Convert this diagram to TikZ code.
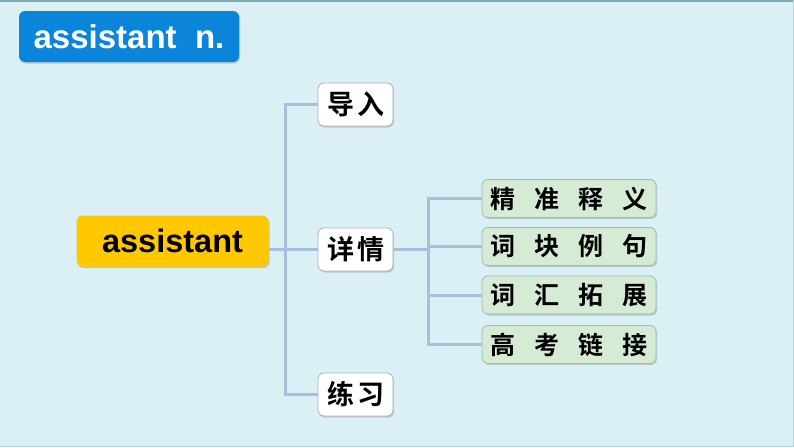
\documentclass[tikz,border=0pt]{standalone}
\usepackage{fontspec}
\setmainfont{Liberation Sans}
\newfontfamily\cjk{Noto Sans CJK SC}[BoldFont={Noto Sans CJK SC Bold}]
\usetikzlibrary{shadows}
\definecolor{bgc}{HTML}{DAF0F4}
\definecolor{titleblue}{HTML}{0A85D9}
\definecolor{rootyel}{HTML}{FFC800}
\definecolor{leafgreen}{HTML}{D5EBD3}
\definecolor{linec}{HTML}{A7BEDC}
\definecolor{boxline}{HTML}{A9B3BD}
\definecolor{topline}{HTML}{7FA8B0}
\definecolor{sideline}{HTML}{B4D4DC}
\tikzset{
  conn/.style={draw=linec, line width=3pt},
  shad/.style={drop shadow={shadow xshift=1pt, shadow yshift=-1.5pt, opacity=0.35, fill=gray}},
  midbox/.style={draw=boxline, line width=0.8pt, fill=white, rounded corners=6pt, minimum width=75pt, minimum height=43pt, inner sep=0pt, font=\cjk\bfseries\fontsize{27}{30}\selectfont, shad},
  leafbox/.style={draw=boxline, line width=0.8pt, fill=leafgreen, rounded corners=6pt, minimum width=174pt, minimum height=38pt, inner sep=0pt, font=\cjk\bfseries\fontsize{25}{28}\selectfont, shad},
}
\newcommand{\gp}{\kern19pt}
\begin{document}
\begin{tikzpicture}[x=1pt,y=-1pt]
\fill[bgc] (0,0) rectangle (794,447);
\useasboundingbox (0,0) rectangle (794,447);
\draw[topline, line width=1.5pt] (0,0.75) -- (794,0.75);
\draw[sideline, line width=1pt] (793.5,0) -- (793.5,447);
\draw[sideline, line width=1pt] (0,446.5) -- (794,446.5);
% coordinates for connector trunks
\coordinate (vx) at (285,0);
\coordinate (wx) at (428,0);
% title
\node[fill=titleblue, rounded corners=6pt, minimum width=220pt, minimum height=51pt, inner sep=0pt, text=white, font=\bfseries\fontsize{33}{36}\selectfont, shad] (title) at (129,36.5) {assistant\ \ n.};
% root
\node[fill=rootyel, rounded corners=6pt, minimum width=192pt, minimum height=51pt, inner sep=0pt, font=\bfseries\fontsize{32.5}{36}\selectfont, shad] (root) at (172.5,241) {assistant};
% mid boxes
\node[midbox] (daoru) at (355.5,104.5) {导\kern3pt 入};
\node[midbox] (xq) at (355.5,249.5) {详\kern3pt 情};
\node[midbox] (lx) at (355.5,394.5) {练\kern3pt 习};
% leaves
\node[leafbox] (l1) at (569,198.5) {精\gp 准\gp 释\gp 义};
\node[leafbox] (l2) at (569,246.5) {词\gp 块\gp 例\gp 句};
\node[leafbox] (l3) at (569,295) {词\gp 汇\gp 拓\gp 展};
\node[leafbox] (l4) at (569,344.5) {高\gp 考\gp 链\gp 接};
% connectors
\draw[conn] (root.east |- xq.west) -- (xq.west);
\draw[conn] (daoru.west) -- (daoru.west -| vx) -- (lx.west -| vx) -- (lx.west);
\draw[conn] (xq.east) -- (xq.east -| wx);
\draw[conn] (l1.west) -- (l1.west -| wx) -- (l4.west -| wx) -- (l4.west);
\draw[conn] (l2.west -| wx) -- (l2.west);
\draw[conn] (l3.west -| wx) -- (l3.west);
\end{tikzpicture}
\end{document}
